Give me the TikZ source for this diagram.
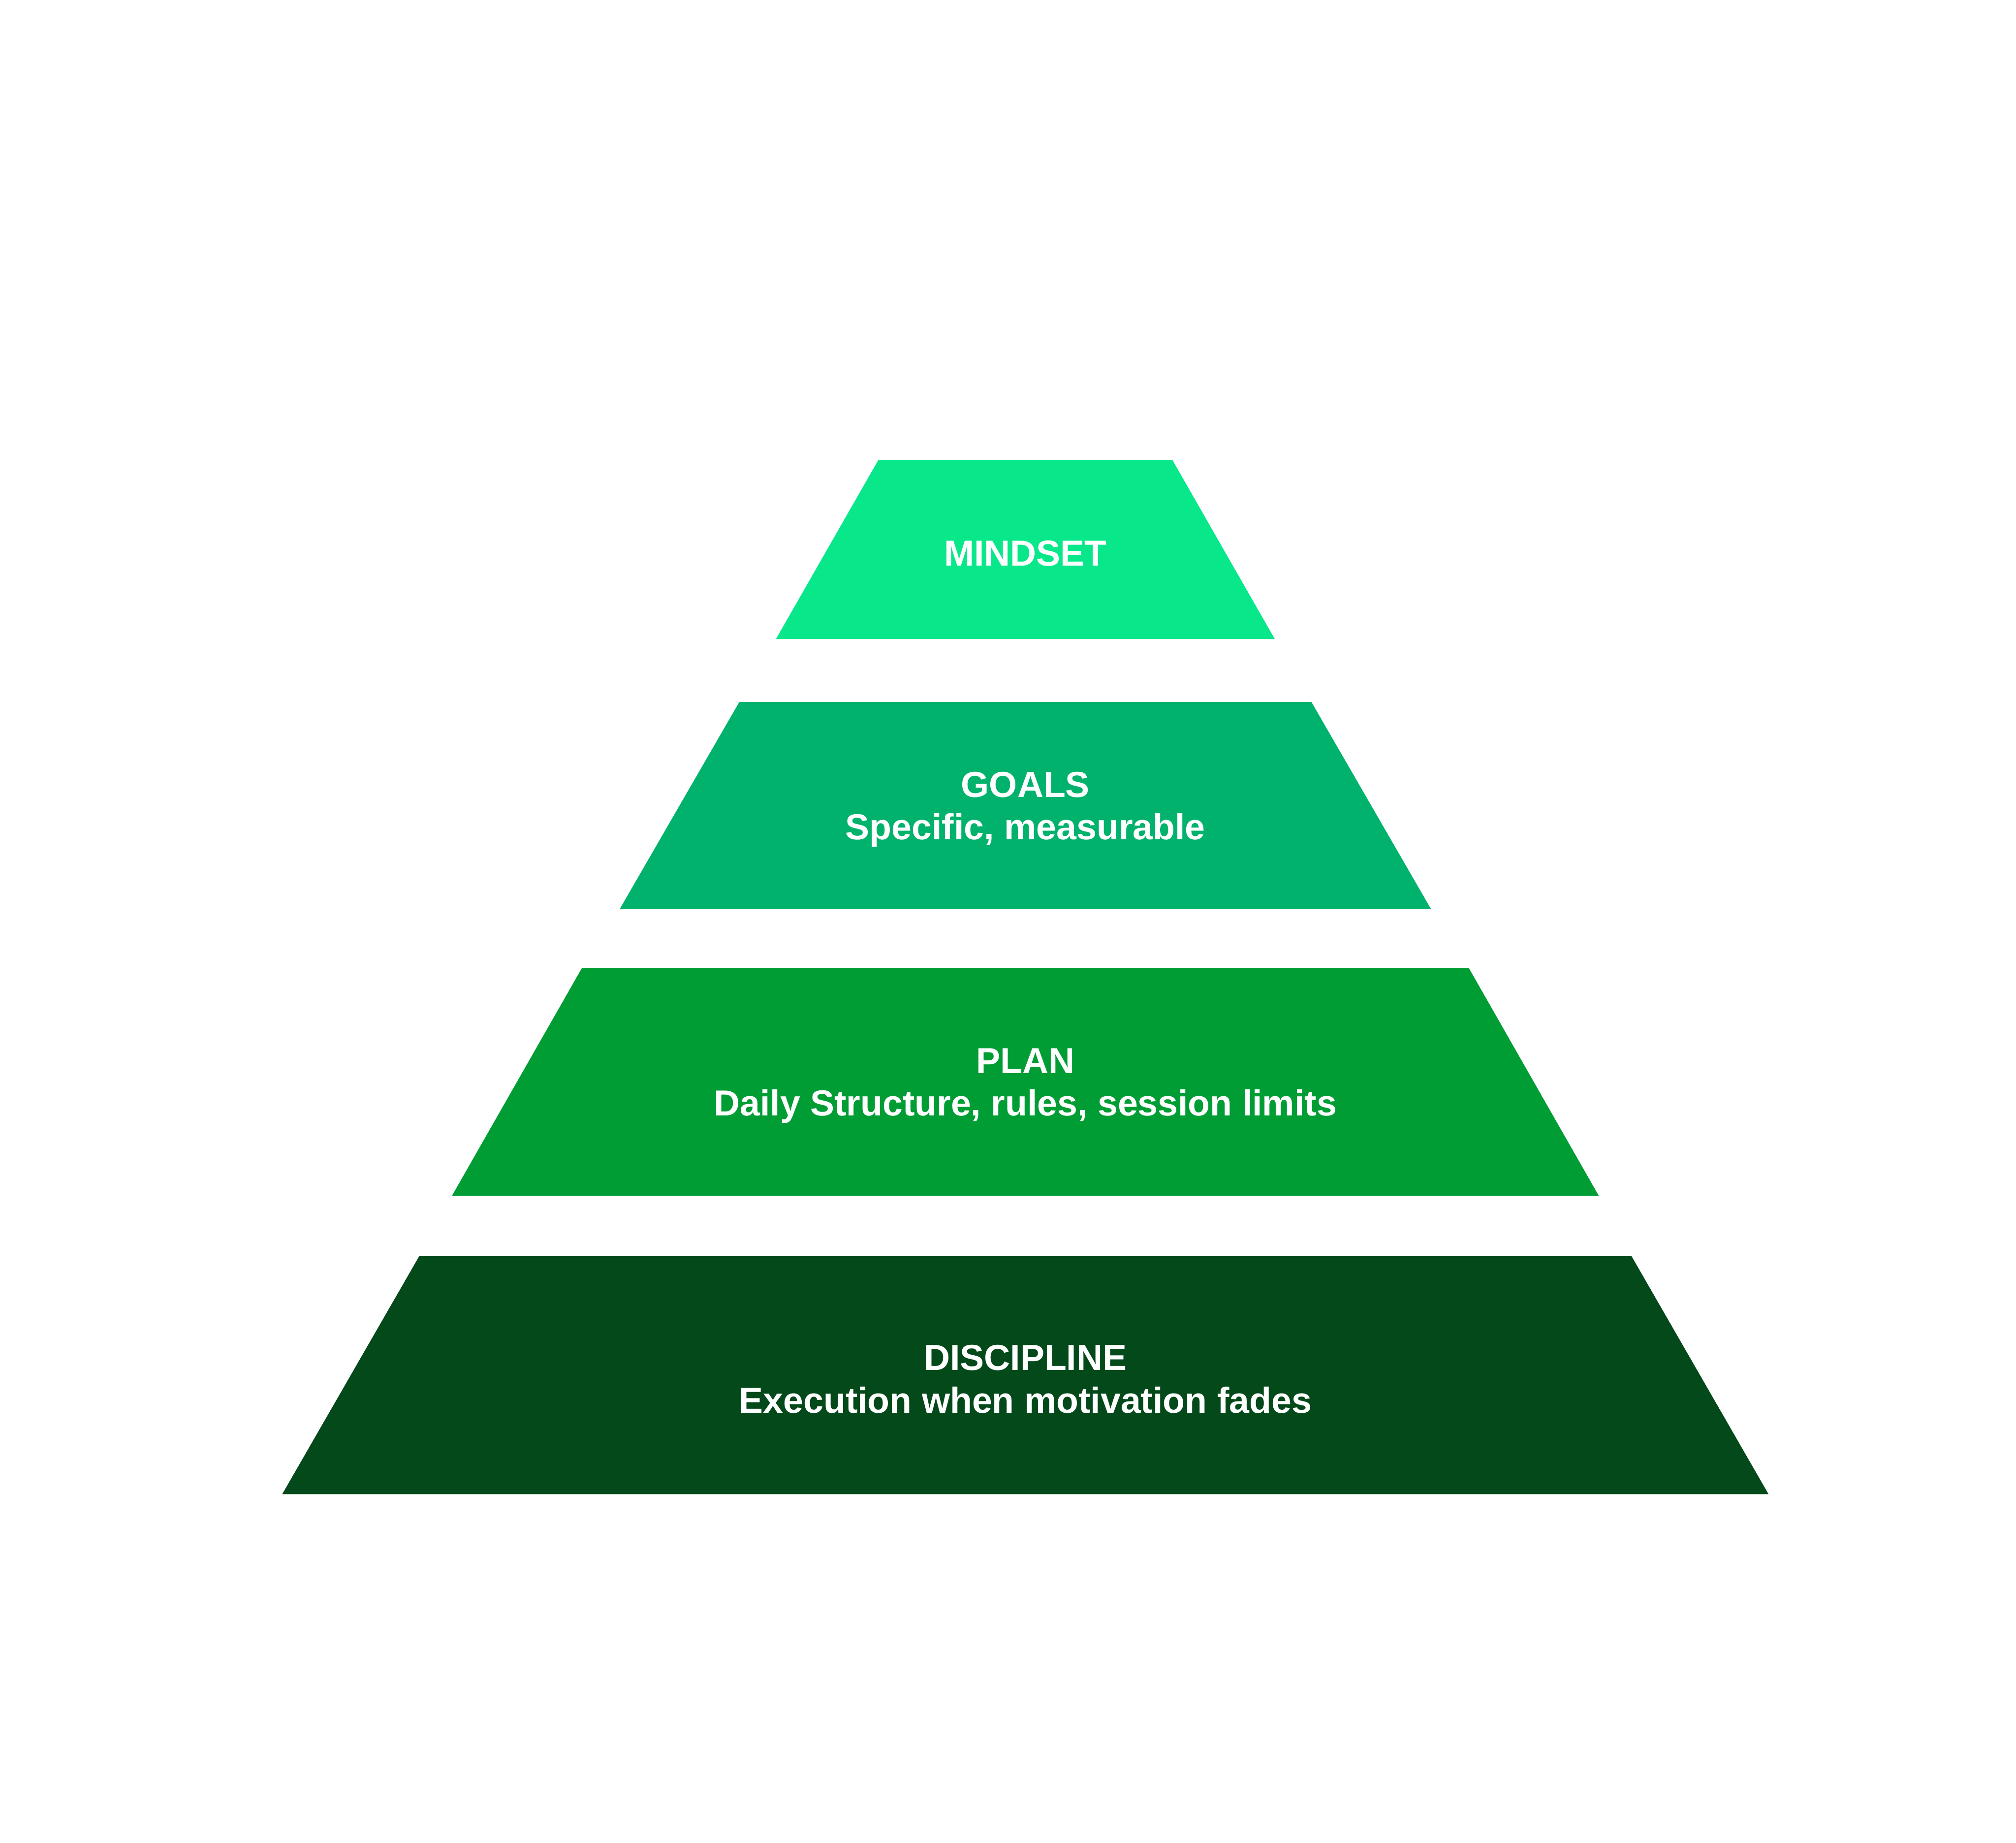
\documentclass[tikz,border=0pt]{standalone}
\usepackage{fontspec}
\setmainfont{Liberation Sans}

\definecolor{mindgreen}{RGB}{8,232,138}
\definecolor{goalgreen}{RGB}{0,178,107}
\definecolor{plangreen}{RGB}{0,157,52}
\definecolor{discgreen}{RGB}{3,73,26}

\begin{document}
\begin{tikzpicture}[
    tiertext/.style={text=white, align=center, inner sep=0pt,
        font=\fontsize{8.0}{9.4}\selectfont\bfseries}]

    % 1. Khung hình
    \useasboundingbox (0, 0) rectangle (15.68, 14.33);

    % 2. Các tầng của kim tự tháp: tên / y trên / y dưới / nửa rộng trên / nửa rộng dưới / màu / chữ
    \foreach \name/\yt/\yb/\wt/\wb/\col/\txt in {
        mindset/10.75/9.36/1.145/1.94/mindgreen/{MINDSET},
        goals/8.87/7.26/2.225/3.155/goalgreen/{GOALS\\Specific, measurable},
        plan/6.80/5.03/3.45/4.46/plangreen/{PLAN\\Daily Structure, rules, session limits},
        discipline/4.56/2.71/4.715/5.78/discgreen/{DISCIPLINE\\Execution when motivation fades}}
    {
        \fill[\col] (7.975-\wt, \yt) -- (7.975+\wt, \yt)
            -- (7.975+\wb, \yb) -- (7.975-\wb, \yb) -- cycle;
        \node[tiertext] (\name) at (7.975, {(\yt+\yb)/2-0.03}) {\txt};
    }

\end{tikzpicture}
\end{document}
